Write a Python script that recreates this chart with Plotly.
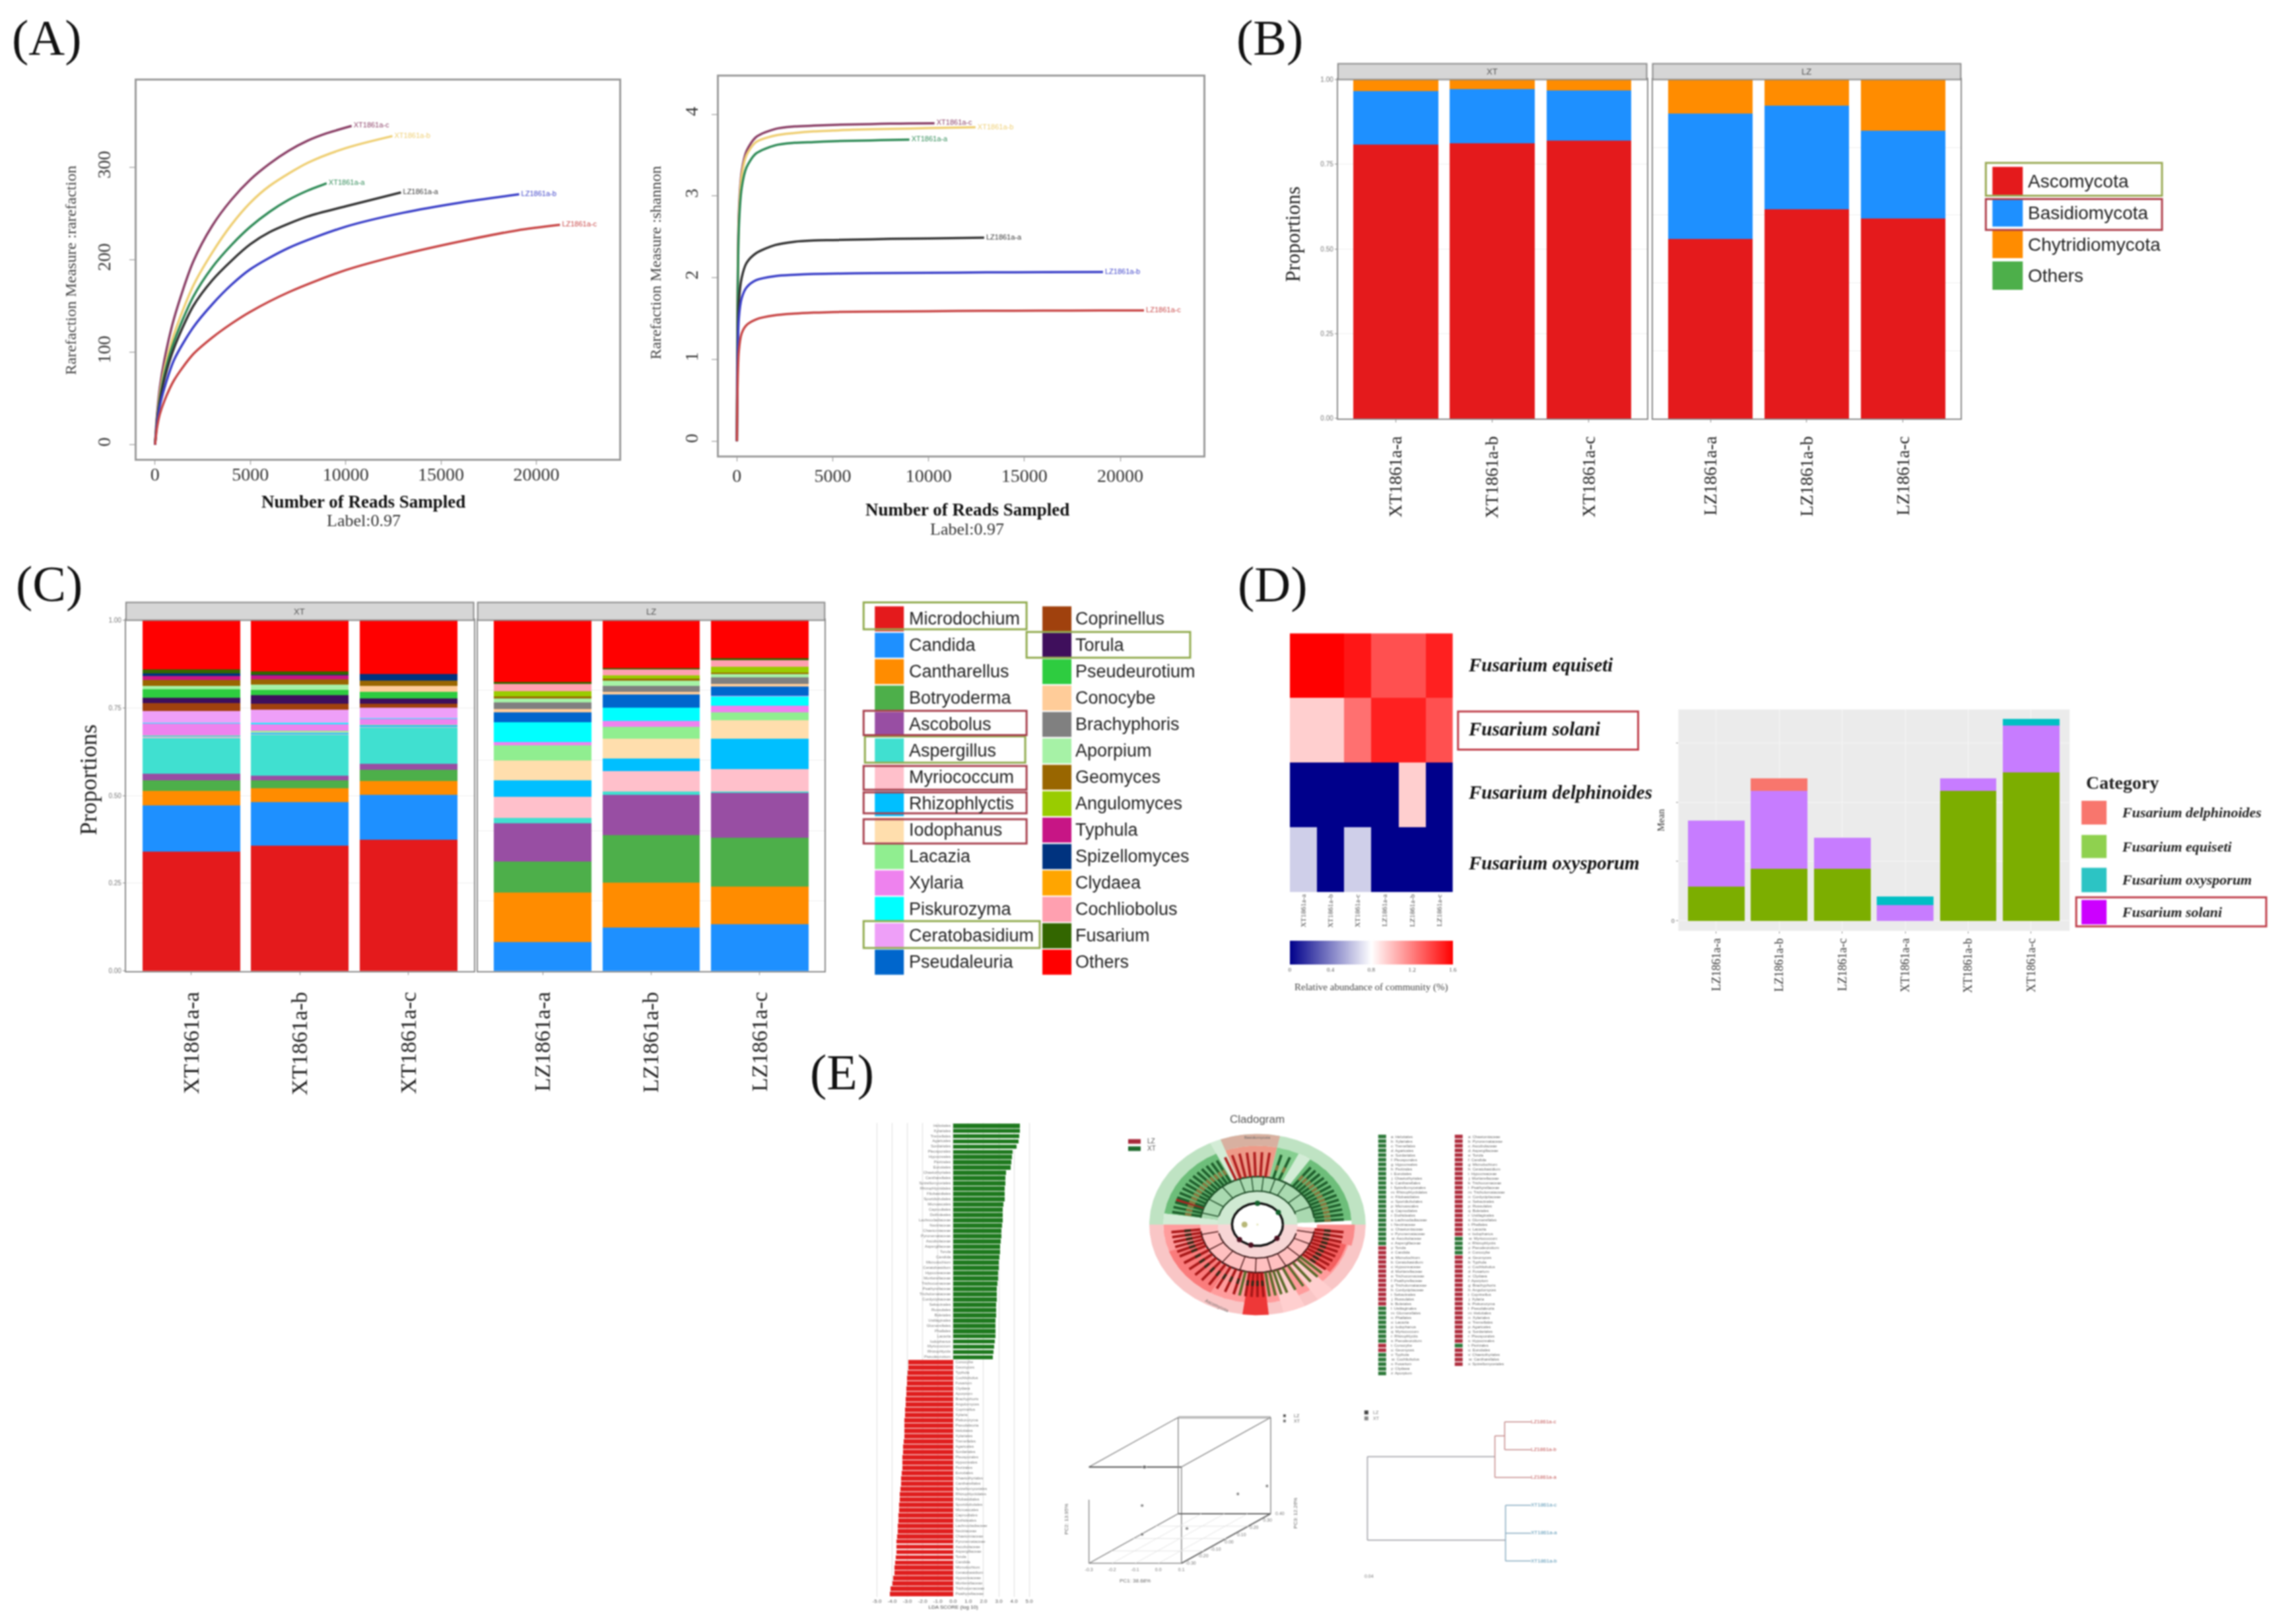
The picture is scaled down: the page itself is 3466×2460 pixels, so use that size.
import numpy as np
import plotly.graph_objects as go

W, H = 3466, 2460
SERIF = "Liberation Serif"
SANS = "Liberation Sans"

# ---------- Panel A data ----------
reads_xt_c = [0,100,250,500,1000,2000,3000,4000,5000,6000,7000,8000,9000,10310]
reads_xt_b = [0,100,250,500,1000,2000,3000,4000,5000,6000,8000,10000,12450]
reads_xt_a = [0,100,250,500,1000,2000,3000,4000,5000,6000,7000,8000,9000]
reads_lz_a = [0,100,250,500,1000,2000,3000,4000,5000,6000,8000,10000,12900]
reads_lz_b = [0,100,250,500,1000,2000,3000,4000,5000,7000,10000,13000,16000,19100]
reads_lz_c = [0,100,250,500,1000,2000,3000,4000,5000,7000,10000,13000,16000,19000,21240]
rich_xt_c = [0,32,62,93,137,198,237,265,287,304,318,329,337,345]
rich_xt_b = [0,28,55,83,120,172,208,238,262,280,305,321,334]
rich_xt_a = [0,26,50,77,112,160,192,216,236,252,265,275,283]
rich_lz_a = [0,25,47,72,105,150,178,199,217,230,247,258,273]
rich_lz_b = [0,22,42,62,92,127,152,173,190,213,236,251,262,271]
rich_lz_c = [0,18,33,48,70,98,116,131,144,165,189,206,220,232,238]
shan_xt_c = [0,2.8,3.3,3.55,3.72,3.82,3.85,3.86,3.87,3.875,3.88,3.885,3.887,3.89]
shan_xt_b = [0,2.7,3.25,3.5,3.66,3.74,3.77,3.79,3.80,3.81,3.82,3.83,3.84]
shan_xt_a = [0,2.6,3.1,3.35,3.52,3.62,3.65,3.66,3.67,3.675,3.68,3.685,3.69]
shan_lz_a = [0,1.7,2.0,2.18,2.3,2.4,2.44,2.455,2.46,2.465,2.475,2.48,2.49]
shan_lz_b = [0,1.5,1.75,1.88,1.97,2.02,2.035,2.045,2.05,2.055,2.06,2.065,2.067,2.07]
shan_lz_c = [0,1.1,1.32,1.42,1.49,1.54,1.56,1.572,1.58,1.585,1.59,1.595,1.597,1.599,1.60]
curve_names = ["XT1861a-c","XT1861a-b","XT1861a-a","LZ1861a-a","LZ1861a-b","LZ1861a-c"]
curve_colors = ["#8A3F66","#EFCF73","#2F8B57","#333333","#3A3FC8","#C84646"]

# ---------- Panel B data ----------
samples_xt = ["XT1861a-a","XT1861a-b","XT1861a-c"]
samples_lz = ["LZ1861a-a","LZ1861a-b","LZ1861a-c"]
phyla = ["Ascomycota","Basidiomycota","Chytridiomycota","Others"]
phyla_colors = ["#E41A1C","#1E90FF","#FF8C00","#4DAF4A"]
asco = [0.809,0.812,0.819,0.530,0.617,0.590]
basi = [0.157,0.159,0.149,0.369,0.305,0.258]
chyt = [0.033,0.028,0.031,0.100,0.077,0.151]
oth_phy = [0.001,0.001,0.001,0.001,0.001,0.001]

# ---------- Panel C data (bottom-up) ----------
genera = ["Microdochium","Candida","Cantharellus","Botryoderma","Ascobolus","Aspergillus","Myriococcum",
          "Rhizophlyctis","Iodophanus","Lacazia","Xylaria","Piskurozyma","Ceratobasidium","Pseudaleuria",
          "Coprinellus","Torula","Pseudeurotium","Conocybe","Brachyphoris","Aporpium","Geomyces",
          "Angulomyces","Typhula","Spizellomyces","Clydaea","Cochliobolus","Fusarium","Others"]
genera_colors = ["#E41A1C","#1E90FF","#FF8C00","#4DAF4A","#984EA3","#40E0D0","#FFC0CB","#00BFFF","#FFDEAD",
                 "#90EE90","#EE82EE","#00FFFF","#EE9FF8","#0066CC","#A0410D","#3F0F5C","#2ECC40","#FFCC99",
                 "#808080","#A6F2A6","#996600","#99CC00","#C71585","#00337F","#FFA500","#FFA0B0","#336600","#FF0000"]
g_micro = [.341,.358,.375,0,0,0]
g_cand  = [.131,.124,.127,.082,.124,.133]
g_canth = [.041,.039,.039,.142,.127,.107]
g_botry = [.030,.022,.033,.088,.137,.140]
g_ascob = [.019,.014,.016,.110,.114,.127]
g_asper = [.103,.117,.105,.015,.009,.004]
g_myrio = [.002,.002,.002,.059,.058,.064]
g_rhizo = [.002,.004,.002,.047,.037,.087]
g_iodo  = [.001,.001,.001,.057,.056,.052]
g_laca  = [.002,.004,.002,.044,.034,.023]
g_xyla  = [.034,.019,.017,.009,.017,.019]
g_pisk  = [.001,.004,.002,.056,.037,.027]
g_cera  = [.034,.037,.029,.001,.001,.001]
g_pseu  = [.000,.000,.000,.028,.037,.026]
g_copr  = [.022,.016,.012,.000,.000,.000]
g_toru  = [.016,.025,.014,.000,.000,.000]
g_pseudeu=[.024,.016,.020,.000,.000,.000]
g_cono  = [.000,.000,.016,.009,.008,.009]
g_brach = [.000,.000,.000,.019,.016,.019]
g_apor  = [.009,.014,.000,.011,.016,.008]
g_geom  = [.017,.016,.016,.005,.006,.004]
g_angu  = [.000,.000,.000,.016,.009,.017]
g_typh  = [.011,.011,.000,.000,.000,.000]
g_spiz  = [.009,.002,.019,.000,.000,.000]
g_clyd  = [.000,.000,.000,.000,.000,.000]
g_coch  = [.000,.000,.000,.021,.016,.019]
g_fusa  = [.011,.009,.000,.004,.005,.005]
g_othr  = [.140,.152,.154,.178,.137,.110]
genus_values = [g_micro,g_cand,g_canth,g_botry,g_ascob,g_asper,g_myrio,g_rhizo,g_iodo,g_laca,g_xyla,g_pisk,g_cera,
                g_pseu,g_copr,g_toru,g_pseudeu,g_cono,g_brach,g_apor,g_geom,g_angu,g_typh,g_spiz,g_clyd,g_coch,g_fusa,g_othr]

# ---------- Panel D data ----------
heat_samples = ["XT1861a-a","XT1861a-b","XT1861a-c","LZ1861a-a","LZ1861a-b","LZ1861a-c"]
heat_species = ["Fusarium equiseti","Fusarium solani","Fusarium delphinoides","Fusarium oxysporum"]
heat_equiseti = [1.60,1.60,1.53,1.35,1.35,1.50]
heat_solani   = [0.95,0.95,1.25,1.50,1.50,1.35]
heat_delph    = [0,0,0,0,0.95,0]
heat_oxy      = [0.65,0,0.65,0,0,0]
mean_samples = ["LZ1861a-a","LZ1861a-b","LZ1861a-c","XT1861a-a","XT1861a-b","XT1861a-c"]
mean_equiseti = [0.290,0.439,0.439,0,1.097,1.251]
mean_solani   = [0.558,0.658,0.261,0.134,0.104,0.397]
mean_delph    = [0,0.104,0,0,0,0]
mean_oxy      = [0,0,0,0.069,0,0.057]

# ---------- Panel E data ----------
lda_xt = [4.38,4.38,4.35,4.32,4.19,3.89,3.86,3.83,3.77,3.47,3.44,3.44,3.40,3.40,3.37,3.31,3.28,3.28,3.25,3.22,
          3.19,3.16,3.13,3.10,3.07,3.04,3.01,2.98,2.95,2.95,2.92,2.89,2.89,2.86,2.83,2.83,2.83,2.80,2.80,2.77,
          2.77,2.74,2.71,2.67,2.61]
lda_lz = [-2.95,-2.95,-2.98,-3.02,-3.02,-3.05,-3.05,-3.10,-3.13,-3.16,-3.16,-3.19,-3.19,-3.22,-3.22,-3.25,-3.28,
          -3.30,-3.33,-3.35,-3.35,-3.38,-3.40,-3.43,-3.46,-3.49,-3.52,-3.55,-3.56,-3.58,-3.60,-3.62,-3.65,-3.67,
          -3.70,-3.72,-3.74,-3.77,-3.80,-3.83,-3.86,-3.92,-3.96,-4.10,-4.16]
taxa = ["Helotiales","Xylariales","Tremellales","Agaricales","Sordariales","Pleosporales","Hypocreales","Pezizales",
        "Eurotiales","Chaetothyriales","Cantharellales","Spizellomycetales","Rhizophlyctidales","Filobasidiales",
        "Sporidiobolales","Microascales","Capnodiales","Dothideales","Lachnocladiaceae","Nectriaceae","Chaetomiaceae",
        "Pyronemataceae","Ascobolaceae","Aspergillaceae","Torula","Candida","Microdochium","Ceratobasidium",
        "Hypocreaceae","Mortierellaceae","Trichocomaceae","Psathyrellaceae","Tricholomataceae","Cordycipitaceae",
        "Sebacinales","Russulales","Boletales","Ustilaginales","Glomerellales","Phallales","Lacazia","Iodophanus",
        "Myriococcum","Rhizophlyctis","Pseudeurotium","Conocybe","Geomyces","Typhula","Cochliobolus","Fusarium",
        "Clydaea","Aporpium","Brachyphoris","Angulomyces","Coprinellus","Xylaria","Piskurozyma","Pseudaleuria"]
clado_col1 = ["XT"]*24 + ["LZ"]*13 + ["XT"]*8 + ["LZ"]*2 + ["XT"]*5
clado_col2 = ["LZ"]*22 + ["XT"]*4 + ["LZ"]*19 + ["XT"]*1 + ["LZ"]*4
clado_xt_leaves = [4,8,12,16,20,24,28,32,36,40,44,48,52,68,74,118,122,126,130,134,138,142,146,150,154,158,162,166,170]
clado_lz_in_top = [82,87,92,97,102,107,112,160]
clado_lz_leaves = [186,190,194,198,202,206,212,218,224,230,236,242,248,254,262,266,270,274,322,326,330,334,338,342,346,350,354]
clado_xt_in_bot = [258,278,282,286,290,296,302,308,314,318]
clado_inner_xt = [22,40,60,72,84,96,108,128,148,166]
clado_inner_lz = [192,212,232,252,268,284,300,318,336,350]
pcoa_pc1 = [-0.06,-0.07,-0.07,0.008,0.074,0.084]
pcoa_depth = [0,0,0,0.3,0.7,1.0]
pcoa_height = [1.0,0.6,0.3,0.207,0.36,0.288]
dend_leaves_lz = ["LZ1861a-c","LZ1861a-b","LZ1861a-a"]
dend_leaves_xt = ["XT1861a-c","XT1861a-a","XT1861a-b"]
dend_node_lz = 0.78
dend_node_lz_in = 0.84
dend_node_xt = 0.845

# ---------- helpers ----------
layout = {}
shapes = []
notes = []
traces = []
_n = 0


def axes(rect, xo, yo):
    global _n
    _n += 1
    s = "" if _n == 1 else str(_n)
    x0, y0, x1, y1 = rect
    base = dict(showgrid=False, zeroline=False, showticklabels=True)
    layout["xaxis" + s] = {**base, "domain": [x0 / W, x1 / W], "anchor": "y" + s, **xo}
    layout["yaxis" + s] = {**base, "domain": [1 - y1 / H, 1 - y0 / H], "anchor": "x" + s, **yo}
    return "x" + s, "y" + s


def rect(x0, y0, x1, y1, fill=None, line=None, lw=0):
    shapes.append(dict(type="rect", xref="paper", yref="paper", x0=x0 / W, x1=x1 / W, y0=1 - y0 / H, y1=1 - y1 / H,
                       fillcolor=fill if fill else "rgba(0,0,0,0)",
                       line=dict(color=line if line else "rgba(0,0,0,0)", width=lw)))


def note(text, x, y, size, color="#111111", family=SERIF, anchor="left", angle=0):
    notes.append(dict(text=text, x=x / W, y=1 - y / H, xref="paper", yref="paper", showarrow=False,
                      xanchor=anchor, yanchor="middle", textangle=angle,
                      font=dict(size=size, color=color, family=family)))


BOX = dict(showline=True, mirror=True, linecolor="#9A9A9A", linewidth=3)

# ---------- Panel labels ----------
note("(A)", 14, 52, 76)
note("(B)", 1870, 52, 76)
note("(C)", 20, 883, 76)
note("(D)", 1872, 884, 76)
note("(E)", 1224, 1626, 76)

# ---------- Panel A ----------
tk = dict(size=28, family=SERIF, color="#333333")
xa, ya = axes((205, 117, 937, 692),
              dict(range=[-969, 24360], tickvals=[0, 5000, 10000, 15000, 20000], tickformat="d", ticks="outside", ticklen=6,
                   tickcolor="#888", tickfont=tk, ticklabelstandoff=-9, **BOX),
              dict(range=[-14.9, 393.8], tickvals=[0, 100, 200, 300], tickformat="d", ticks="outside", ticklen=8, tickcolor="#888",
                   tickfont=tk, tickangle=-90, ticklabelstandoff=18, **BOX))
xb, yb = axes((1088, 111, 1822, 687),
              dict(range=[-929, 24337], tickvals=[0, 5000, 10000, 15000, 20000], tickformat="d", ticks="outside", ticklen=6,
                   tickcolor="#888", tickfont=tk, ticklabelstandoff=-2, **BOX),
              dict(range=[-0.173, 4.457], tickvals=[0, 1, 2, 3, 4], ticks="outside", ticklen=8, tickcolor="#888",
                   tickfont=tk, tickangle=-90, ticklabelstandoff=10, **BOX))
all_reads = [reads_xt_c, reads_xt_b, reads_xt_a, reads_lz_a, reads_lz_b, reads_lz_c]
all_rich = [rich_xt_c, rich_xt_b, rich_xt_a, rich_lz_a, rich_lz_b, rich_lz_c]
all_shan = [shan_xt_c, shan_xt_b, shan_xt_a, shan_lz_a, shan_lz_b, shan_lz_c]
for vals, ax, ay in ((all_rich, xa, ya), (all_shan, xb, yb)):
    for rd, v, nm, c in zip(all_reads, vals, curve_names, curve_colors):
        traces.append(go.Scatter(x=rd, y=v, mode="lines", line=dict(color=c, width=3.5, shape="spline", smoothing=0.8),
                                 xaxis=ax, yaxis=ay, showlegend=False))
        traces.append(go.Scatter(x=[rd[-1]], y=[v[-1]], mode="text", text=[" " + nm], textposition="middle right",
                                 textfont=dict(size=11, color=c, family=SANS), xaxis=ax, yaxis=ay, showlegend=False))
note("<b>Number of Reads Sampled</b>", 549, 758, 27, anchor="center")
note("Label:0.97", 549, 786, 26, color="#333", anchor="center")
note("<b>Number of Reads Sampled</b>", 1464, 770, 27, anchor="center")
note("Label:0.97", 1464, 799, 26, color="#333", anchor="center")
note("Rarefaction Measure :rarefaction", 105, 405, 24, color="#444", anchor="center", angle=-90)
note("Rarefaction Measure :shannon", 992, 394, 24, color="#444", anchor="center", angle=-90)

# ---------- Panel B ----------
FACET = dict(showline=True, mirror=True, linecolor="#8A8A8A", linewidth=2)
xtf = dict(size=27, family=SERIF, color="#222")
ytf = dict(size=10, family=SANS, color="#777")
x1, y1 = axes((2026, 115, 2494, 631),
              dict(type="category", categoryorder="array", categoryarray=samples_xt, range=[-0.6, 2.6], tickangle=-90,
                   tickfont=xtf, ticks="outside", ticklen=4, tickcolor="#888", ticklabelstandoff=10, **FACET),
              dict(range=[0, 1], tickvals=[0, .25, .5, .75, 1], ticktext=["0.00", "0.25", "0.50", "0.75", "1.00"],
                   tickfont=ytf, ticks="outside", ticklen=3, tickcolor="#888", showgrid=True, gridcolor="#EEE", **FACET))
x2, y2 = axes((2503, 115, 2970, 631),
              dict(type="category", categoryorder="array", categoryarray=samples_lz, range=[-0.6, 2.6], tickangle=-90,
                   tickfont=xtf, ticks="outside", ticklen=4, tickcolor="#888", ticklabelstandoff=10, **FACET),
              dict(range=[0, 1], showticklabels=False, showgrid=True, gridcolor="#EEE", **FACET))
for vals, nm, c in zip([asco, basi, chyt, oth_phy], phyla, phyla_colors):
    traces.append(go.Bar(x=samples_xt, y=vals[:3], width=0.88, marker=dict(color=c, line=dict(width=0)), xaxis=x1, yaxis=y1,
                         name=nm, showlegend=False))
    traces.append(go.Bar(x=samples_lz, y=vals[3:], width=0.88, marker=dict(color=c, line=dict(width=0)), xaxis=x2, yaxis=y2,
                         name=nm, showlegend=False))
rect(2026, 91, 2494, 115, fill="#D6D6D6", line="#8A8A8A", lw=2)
rect(2503, 91, 2970, 115, fill="#D6D6D6", line="#8A8A8A", lw=2)
note("XT", 2260, 103, 13, color="#555", family=SANS, anchor="center")
note("LZ", 2736, 103, 13, color="#555", family=SANS, anchor="center")
note("Proportions", 1957, 350, 31, color="#222", anchor="center", angle=-90)
for i, (nm, c) in enumerate(zip(phyla, phyla_colors)):
    top = 248 + 48 * i
    rect(3018, top, 3064, top + 43, fill=c)
    note(nm, 3070, top + 22, 28, color="#222", family=SANS)
rect(3008, 242, 3275, 292, line="#9AAA55", lw=3)
rect(3008, 297, 3275, 344, line="#B0404C", lw=3)

# ---------- Panel C ----------
xtf2 = dict(size=34, family=SERIF, color="#222")
x3, y3 = axes((189, 938, 716, 1472),
              dict(type="category", categoryorder="array", categoryarray=samples_xt, range=[-0.6, 2.6], tickangle=-90,
                   tickfont=xtf2, ticks="outside", ticklen=4, tickcolor="#888", ticklabelstandoff=12, **FACET),
              dict(range=[0, 1], tickvals=[0, .25, .5, .75, 1], ticktext=["0.00", "0.25", "0.50", "0.75", "1.00"],
                   tickfont=ytf, ticks="outside", ticklen=3, tickcolor="#888", showgrid=True, gridcolor="#EEE", **FACET))
x4, y4 = axes((722, 938, 1248, 1472),
              dict(type="category", categoryorder="array", categoryarray=samples_lz, range=[-0.6, 2.6], tickangle=-90,
                   tickfont=xtf2, ticks="outside", ticklen=4, tickcolor="#888", ticklabelstandoff=12, **FACET),
              dict(range=[0, 1], showticklabels=False, showgrid=True, gridcolor="#EEE", **FACET))
for vals, nm, c in zip(genus_values, genera, genera_colors):
    traces.append(go.Bar(x=samples_xt, y=vals[:3], width=0.9, marker=dict(color=c, line=dict(width=0)), xaxis=x3, yaxis=y3,
                         name=nm, showlegend=False))
    traces.append(go.Bar(x=samples_lz, y=vals[3:], width=0.9, marker=dict(color=c, line=dict(width=0)), xaxis=x4, yaxis=y4,
                         name=nm, showlegend=False))
rect(189, 911, 716, 938, fill="#D6D6D6", line="#8A8A8A", lw=2)
rect(722, 911, 1248, 938, fill="#D6D6D6", line="#8A8A8A", lw=2)
note("XT", 452, 925, 13, color="#555", family=SANS, anchor="center")
note("LZ", 985, 925, 13, color="#555", family=SANS, anchor="center")
note("Proportions", 132, 1181, 36, color="#222", anchor="center", angle=-90)
for i, (nm, c) in enumerate(zip(genera, genera_colors)):
    row = i % 14
    yc = 936 + 40.2 * row
    kx, tx = (1324, 1374) if i < 14 else (1578, 1626)
    rect(kx, yc - 19, kx + 44, yc + 19, fill=c)
    note(nm, tx, yc, 27, color="#222", family=SANS)
green_box = "#92AC50"
red_box = "#A8404E"
for (a, b, c, d, col) in [(1307, 911, 1554, 952, green_box), (1554, 956, 1802, 995, green_box),
                          (1309, 1115, 1552, 1155, green_box), (1307, 1396, 1574, 1437, green_box),
                          (1307, 1076, 1554, 1113, red_box), (1307, 1160, 1554, 1196, red_box),
                          (1307, 1200, 1554, 1232, red_box), (1307, 1241, 1554, 1278, red_box)]:
    rect(a, b, c, d, line=col, lw=3)

# ---------- Panel D ----------
hx, hy = axes((1953, 958, 2200, 1352),
              dict(type="category", tickangle=-90, tickfont=dict(size=11, family=SERIF, color="#444"), ticks=""),
              dict(type="category", categoryorder="array", categoryarray=heat_species[::-1], showticklabels=False, ticks=""))
traces.append(go.Heatmap(z=[heat_equiseti, heat_solani, heat_delph, heat_oxy], x=heat_samples, y=heat_species,
                         xaxis=hx, yaxis=hy, zmin=0, zmax=1.6,
                         colorscale=[[0, "#00008B"], [0.5, "#FFFFFF"], [1, "#FF0000"]],
                         colorbar=dict(orientation="h", x=2076.5 / W, xanchor="center", y=1 - 1426 / H, yanchor="top",
                                       lenmode="pixels", len=247, thicknessmode="pixels", thickness=36, outlinewidth=0,
                                       xpad=0, ypad=0, tickvals=[0, .4, .8, 1.2, 1.6], ticks="",
                                       tickfont=dict(size=9, family=SERIF, color="#555"))))
for sp, yy in zip(heat_species, [1006, 1103, 1200, 1307]):
    note("<b><i>%s</i></b>" % sp, 2221, yy, 29, color="#111")
note("Relative abundance of community (%)", 2076, 1497, 15, color="#444", anchor="center")
rect(2208, 1077, 2481, 1135, line="#C0404C", lw=3)

mx, my = axes((2542, 1074, 3135, 1411),
              dict(type="category", categoryorder="array", categoryarray=mean_samples, range=[-0.6, 5.61], tickangle=-90,
                   tickfont=dict(size=18, family=SERIF, color="#333"), ticks="outside", ticklen=3, tickcolor="#888",
                   showgrid=True, gridcolor="#F6F6F6"),
              dict(range=[-0.087, 1.784], tickvals=[0, .5, 1, 1.5], ticktext=["0", "", "", ""], ticks="outside", ticklen=3,
                   tickcolor="#888", tickfont=dict(size=9, family=SANS, color="#666"), showgrid=True, gridcolor="#F6F6F6"))
layout[my.replace("y", "yaxis")]["title"] = dict(text="Mean", font=dict(size=15, family=SERIF, color="#333"), standoff=6)
for vals, nm, c in [(mean_equiseti, "Fusarium equiseti", "#7CAE00"), (mean_solani, "Fusarium solani", "#C77CFF"),
                    (mean_delph, "Fusarium delphinoides", "#F8766D"), (mean_oxy, "Fusarium oxysporum", "#00BFC4")]:
    traces.append(go.Bar(x=mean_samples, y=vals, width=0.9, marker=dict(color=c, line=dict(width=0)), xaxis=mx, yaxis=my,
                         name=nm, showlegend=False))
note("<b>Category</b>", 3158, 1185, 28, color="#222")
for top, bot, c, nm in [(1213, 1249, "#F8766D", "Fusarium delphinoides"), (1265, 1300, "#8FD14F", "Fusarium equiseti"),
                        (1315, 1352, "#2CC4C4", "Fusarium oxysporum"), (1364, 1401, "#CC00FF", "Fusarium solani")]:
    rect(3153, top, 3191, bot, fill=c)
    note("<b><i>%s</i></b>" % nm, 3212, (top + bot) / 2, 22, color="#222")
rect(3145, 1360, 3433, 1404, line="#C0404C", lw=3)

# ---------- Panel E: LDA bars ----------
lx, ly = axes((1322, 1703.4, 1564, 2424.6),
              dict(range=[-5.228, 5.258], tickvals=list(range(-5, 6)), ticktext=["%.1f" % v for v in range(-5, 6)],
                   tickfont=dict(size=8, family=SANS, color="#555"), showgrid=True, gridcolor="#DDD", gridwidth=1,
                   title=dict(text="LDA SCORE (log 10)", font=dict(size=8, family=SANS, color="#444"), standoff=2)),
              dict(range=[89.5, -0.5], showticklabels=False))
idx_xt = list(range(45))
idx_lz = list(range(45, 90))
traces.append(go.Bar(x=lda_xt, y=idx_xt, orientation="h", width=0.86, marker=dict(color="#1F7A1F", line=dict(width=0)),
                     xaxis=lx, yaxis=ly, showlegend=False))
traces.append(go.Bar(x=lda_lz, y=idx_lz, orientation="h", width=0.86, marker=dict(color="#E01F1F", line=dict(width=0)),
                     xaxis=lx, yaxis=ly, showlegend=False))
traces.append(go.Scatter(x=[-0.15] * 45, y=idx_xt, mode="text", text=[taxa[i % len(taxa)] for i in idx_xt],
                         textposition="middle left", textfont=dict(size=6, family=SANS, color="#777"),
                         xaxis=lx, yaxis=ly, showlegend=False))
traces.append(go.Scatter(x=[0.15] * 45, y=idx_lz, mode="text", text=[taxa[i % len(taxa)] for i in idx_lz],
                         textposition="middle right", textfont=dict(size=6, family=SANS, color="#777"),
                         xaxis=lx, yaxis=ly, showlegend=False))

# ---------- Panel E: cladogram ----------
cx, cy = axes((1732, 1713, 2076, 2003),
              dict(range=[-1.049, 1.049], visible=False), dict(range=[-1.051, 1.051], visible=False))


def wedge(a0, a1, r0, r1, color):
    t = np.radians(np.linspace(a0, a1, int(abs(a1 - a0)) + 2))
    xs = np.concatenate([r1 * np.cos(t), r0 * np.cos(t[::-1])])
    ys = np.concatenate([r1 * np.sin(t), r0 * np.sin(t[::-1])])
    traces.append(go.Scatter(x=xs, y=ys, mode="lines", fill="toself", fillcolor=color, line=dict(width=0),
                             xaxis=cx, yaxis=cy, showlegend=False, hoverinfo="skip"))


clado_sectors = [(0, 180, .87, 1.0, "#BFE3C3"), (3, 56, .35, .87, "#6DBE7A"), (56, 64, .35, .87, "#D3ECD6"),
                 (64, 78, .35, .87, "#86CF90"), (78, 110, .35, .87, "#EE9A88"), (78, 110, .87, 1.0, "#D8B0A0"),
                 (110, 116, .35, 1.0, "#D3ECD6"), (116, 172, .35, .87, "#6DBE7A"), (172, 180, .35, .87, "#D3ECD6"),
                 (180, 360, .87, 1.0, "#F9C6C6"), (180, 356, .35, .87, "#FF9C9C"), (200, 240, .55, .87, "#FA7C7C"),
                 (262, 276, .35, 1.0, "#EE3838"), (284, 296, .55, 1.0, "#FFCFCF"), (304, 314, .55, 1.0, "#FFCFCF"),
                 (322, 345, .55, .85, "#F46060"), (345, 360, .55, .9, "#FA8A8A"),
                 (3, 172, .37, .53, "#A9D9B0"), (180, 356, .37, .53, "#FFC0C0"),
                 (0, 360, .23, .37, "#F7D6D6"), (0, 180, .23, .37, "#CFE9D2"), (0, 360, 0, .23, "#FFFFFF")]
for s in clado_sectors:
    wedge(*s)


def arc(a0, a1, r, color, width):
    t = np.radians(np.linspace(a0, a1, int(abs(a1 - a0)) + 2))
    traces.append(go.Scatter(x=r * np.cos(t), y=r * np.sin(t), mode="lines", line=dict(color=color, width=width),
                             xaxis=cx, yaxis=cy, showlegend=False, hoverinfo="skip"))


def spokes(angles, r0, r1, color, width):
    xs, ys = [], []
    for a in angles:
        t = np.radians(a)
        xs += [r0 * np.cos(t), r1 * np.cos(t), None]
        ys += [r0 * np.sin(t), r1 * np.sin(t), None]
    traces.append(go.Scatter(x=xs, y=ys, mode="lines", line=dict(color=color, width=width), xaxis=cx, yaxis=cy,
                             showlegend=False, hoverinfo="skip"))


arc(0, 360, .235, "#111111", 3.5)
arc(18, 165, .37, "#1D4A26", 2)
arc(195, 345, .37, "#3A1A1A", 2)
arc(8, 172, .53, "#1D4A26", 2.5)
arc(188, 352, .53, "#3A1A1A", 2.5)
spokes(clado_inner_xt, .37, .53, "#1D4A26", 1.5)
spokes(clado_inner_lz, .37, .53, "#4A1818", 1.5)
spokes(clado_lz_in_top, .53, .80, "#B02020", 4)
spokes(clado_xt_leaves, .53, .80, "#1F5F2C", 4)
spokes(clado_lz_leaves, .53, .80, "#A81818", 4)
spokes(clado_xt_in_bot, .53, .80, "#5A6A2A", 4)
spokes(clado_xt_leaves, .62, .68, "#8A7A40", 4)
spokes(clado_lz_leaves, .62, .68, "#3A2A18", 4)
for a_list, c in (([90, 35], "#14602C"), ([320, 255, 225], "#4A1020")):
    t = np.radians(a_list)
    traces.append(go.Scatter(x=.235 * np.cos(t), y=.235 * np.sin(t), mode="markers", marker=dict(size=8, color=c),
                             xaxis=cx, yaxis=cy, showlegend=False, hoverinfo="skip"))
traces.append(go.Scatter(x=[-.12, 0], y=[0, 0], mode="markers", marker=dict(size=[10, 4], color=["#9A9A40", "#D8D890"]),
                         xaxis=cx, yaxis=cy, showlegend=False, hoverinfo="skip"))
note("Cladogram", 1904, 1698, 17, color="#555", family=SANS, anchor="center")
note("Basidiomycota", 1904, 1725, 6, color="#666", family=SANS, anchor="center")
note("Ascomycota", 1842, 1982, 7, color="#666", family=SANS, anchor="center", angle=25)
rect(1708, 1728, 1727, 1735, fill="#A8293B")
rect(1708, 1739, 1727, 1746, fill="#1E6B2E")
note("LZ", 1735, 1731, 10, color="#555", family=SANS)
note("XT", 1735, 1742, 10, color="#555", family=SANS)
letters = "abcdefghijklmnopqrstuvwxyz"
for col, groups, kx, tx in ((0, clado_col1, 2087, 2104), (1, clado_col2, 2203, 2221)):
    for i, g in enumerate(groups):
        yc = 1724 + 7.07 * i
        rect(kx, yc - 2.8, kx + 12, yc + 2.8, fill="#2F7A3B" if g == "XT" else "#B03040")
        note("%s: %s" % (letters[i % 26], taxa[(i + col * 20) % len(taxa)]), tx, yc, 6, color="#666", family=SANS)

# ---------- Panel E: PCoA wireframe ----------
px_, py_ = axes((1610, 2142.6, 1981.5, 2406),
                dict(range=[470, 1000], visible=False), dict(range=[1460, 930], visible=False))


def proj(pc1, depth, height):
    return 525 + (pc1 + 0.3) / 0.4 * 200 + depth * 193, 1395 - depth * 152 - height * 295


def seg(a, b, color="#8A8A8A", width=1.5):
    p, q = proj(*a), proj(*b)
    traces.append(go.Scatter(x=[p[0], q[0]], y=[p[1], q[1]], mode="lines", line=dict(color=color, width=width),
                             xaxis=px_, yaxis=py_, showlegend=False, hoverinfo="skip"))


L_, R_ = -0.3, 0.1
seg((L_, 1, 1), (R_, 1, 1), "#BDBDBD", 4)
seg((L_, 0, 1), (L_, 1, 1))
seg((R_, 0, 1), (R_, 1, 1))
seg((L_, 0, 1), (R_, 0, 1), "#555555", 2)
seg((L_, 1, 0), (L_, 1, 1))
seg((R_, 0, 0), (R_, 0, 1))
seg((R_, 1, 0), (R_, 1, 1))
seg((L_, 1, 0), (R_, 1, 0), "#666666", 2)
seg((R_, 0, 0), (R_, 1, 0), "#666666", 2)
seg((L_, 0, 0), (R_, 0, 0))
seg((L_, 0, 0), (L_, 1, 0))
seg((L_, 0, 0), (L_, 0, 0.66))
for v in [-0.2, -0.1, 0.0]:
    seg((v, 0, 0), (v, 1, 0), "#E2E2E2", 1)
for d in [0.25, 0.5, 0.75]:
    seg((L_, d, 0), (R_, d, 0), "#E2E2E2", 1)
pts = [proj(a, b, c) for a, b, c in zip(pcoa_pc1, pcoa_depth, pcoa_height)]
traces.append(go.Scatter(x=[p[0] for p in pts], y=[p[1] for p in pts], mode="markers",
                         marker=dict(size=[6, 5, 5, 5, 5, 5], color="#555555"), xaxis=px_, yaxis=py_, showlegend=False))
for v in [-0.3, -0.2, -0.1, 0.0, 0.1]:
    p = proj(v, 0, 0)
    traces.append(go.Scatter(x=[p[0]], y=[p[1] + 20], mode="text", text=["%.1f" % v],
                             textfont=dict(size=7, family=SANS, color="#777"), xaxis=px_, yaxis=py_, showlegend=False))
for d, lab in zip([0, .14, .28, .43, .57, .71, .86, 1],
                  ["-0.30", "-0.20", "-0.10", "0.00", "0.10", "0.20", "0.30", "0.40"]):
    p = proj(R_, d, 0)
    traces.append(go.Scatter(x=[p[0] + 20], y=[p[1]], mode="text", text=[lab],
                             textfont=dict(size=7, family=SANS, color="#777"), xaxis=px_, yaxis=py_, showlegend=False))
note("PC1: 38.68%", 1718, 2400, 8, color="#666", family=SANS, anchor="center")
note("PC2: 13.95%", 1615, 2307, 8, color="#666", family=SANS, anchor="center", angle=-90)
note("PC3: 12.26%", 1962, 2297, 8, color="#666", family=SANS, anchor="center", angle=-90)
note("LZ", 1957, 2149, 7, color="#666", family=SANS)
note("XT", 1957, 2157, 7, color="#666", family=SANS)
rect(1943, 2147, 1947, 2151, fill="#555")
rect(1943, 2155, 1947, 2159, fill="#777")

# ---------- Panel E: dendrogram ----------
dx, dy = axes((2051.7, 2137.6, 2380, 2401),
              dict(range=[-0.0765, 1.249], visible=False), dict(range=[5.73, -0.49], visible=False))
LZC, XTC, ROOT = "#C58A8A", "#86AABF", "#9A9AA2"
lz_mid_in = 0.5
lz_mid = 1.25
xt_mid = 4.25


def path(xs, ys, c, w=1.5):
    traces.append(go.Scatter(x=xs, y=ys, mode="lines", line=dict(color=c, width=w), xaxis=dx, yaxis=dy,
                             showlegend=False, hoverinfo="skip"))


path([0, 0], [lz_mid, xt_mid], ROOT)
path([0, dend_node_lz], [lz_mid, lz_mid], ROOT)
path([0, dend_node_xt], [xt_mid, xt_mid], ROOT)
path([dend_node_lz, dend_node_lz], [lz_mid_in, 2], LZC)
path([dend_node_lz, dend_node_lz_in], [lz_mid_in, lz_mid_in], LZC)
path([dend_node_lz_in, 1], [0, 0], LZC)
path([dend_node_lz_in, dend_node_lz_in], [0, 1], LZC)
path([dend_node_lz_in, 1], [1, 1], LZC)
path([dend_node_lz, 1], [2, 2], LZC)
path([dend_node_xt, dend_node_xt], [3, 5], XTC)
for i in (3, 4, 5):
    path([dend_node_xt, 1], [i, i], XTC)
traces.append(go.Scatter(x=[1, 1, 1], y=[0, 1, 2], mode="text", text=dend_leaves_lz, textposition="middle right",
                         textfont=dict(size=8, family=SANS, color="#C05050"), xaxis=dx, yaxis=dy, showlegend=False))
traces.append(go.Scatter(x=[1, 1, 1], y=[3, 4, 5], mode="text", text=dend_leaves_xt, textposition="middle right",
                         textfont=dict(size=8, family=SANS, color="#5090B0"), xaxis=dx, yaxis=dy, showlegend=False))
note("LZ", 2077, 2144, 7, color="#777", family=SANS)
note("XT", 2077, 2153, 7, color="#777", family=SANS)
rect(2066, 2141, 2072, 2147, fill="#444")
rect(2066, 2150, 2072, 2156, fill="#888")
note("0.04", 2073, 2393, 7, color="#777", family=SANS, anchor="center")

fig = go.Figure(data=traces)
fig.update_layout(**layout)
fig.update_layout(width=W, height=H, margin=dict(l=0, r=0, t=0, b=0), paper_bgcolor="white", plot_bgcolor="white",
                  barmode="stack", bargap=0.1, showlegend=False, shapes=shapes, annotations=notes)
# grey panel behind the Mean chart
fig.add_shape(type="rect", xref="paper", yref="paper", x0=2542 / W, x1=3135 / W, y0=1 - 1074 / H, y1=1 - 1411 / H,
              fillcolor="#EBEBEB", line=dict(width=0), layer="below")
fig.write_html("out.html", config={"displayModeBar": False},
               post_script="document.body.style.margin='0';document.documentElement.style.overflow='hidden';"
                           "document.querySelector('.plotly-graph-div').style.filter='blur(1.3px)';")
